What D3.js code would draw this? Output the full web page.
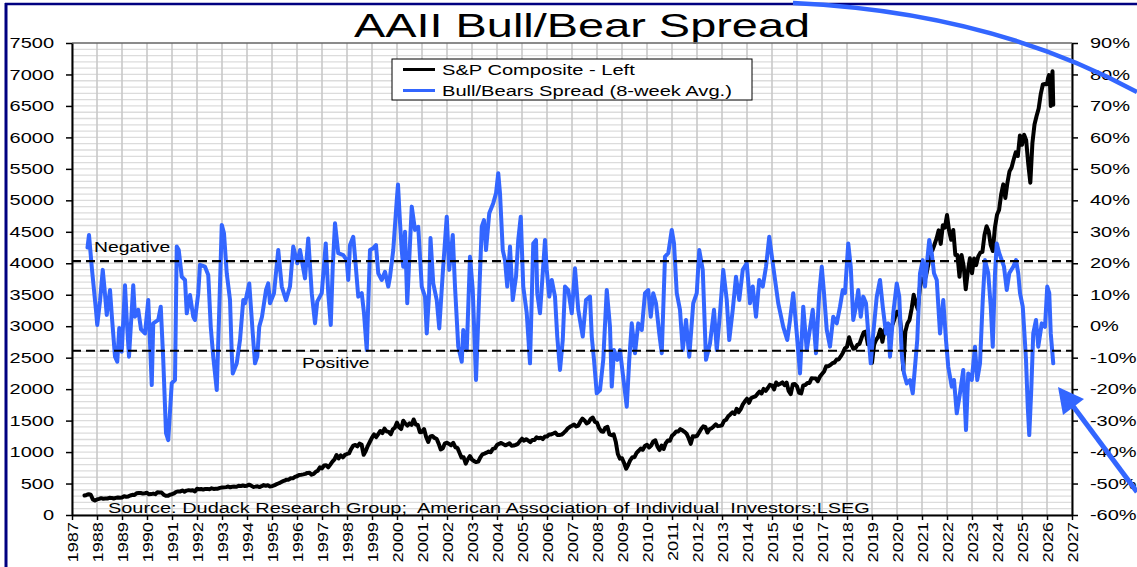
<!DOCTYPE html>
<html><head><meta charset="utf-8">
<script src="https://cdn.jsdelivr.net/npm/d3@7"></script>
<style>
body{margin:0;background:#fff;}
svg{display:block;font-family:Arial,"Liberation Sans",sans-serif;}
</style>
</head><body>
<svg id="c" width="1137" height="567"></svg>
<script>
// ---------------- DATA ----------------
const titleText = "AAII Bull/Bear Spread";
const legendLabels = ["S&P Composite - Left", "Bull/Bears Spread (8-week Avg.)"];
const sourceText = "Source: Dudack Research Group;\u00a0 American Association of Individual\u00a0 Investors;LSEG";
const yearTicks = [1987,1988,1989,1990,1991,1992,1993,1994,1995,1996,1997,1998,1999,2000,2001,2002,2003,2004,2005,2006,2007,2008,2009,2010,2011,2012,2013,2014,2015,2016,2017,2018,2019,2020,2021,2022,2023,2024,2025,2026,2027];
const leftTicks = [0,500,1000,1500,2000,2500,3000,3500,4000,4500,5000,5500,6000,6500,7000,7500];
const rightTicks = [-60,-50,-40,-30,-20,-10,0,10,20,30,40,50,60,70,80,90];
const negativeLevel = 20.7;   // "Negative" threshold (%)
const positiveLevel = -7.8;   // "Positive" threshold (%)

// S&P Composite, month-end values starting June 1987
const spxStartYear = 1987, spxStartMonth = 6;
const spxMonthly = [
 310,318,330,322,248,230,247,
 257,268,259,261,262,273,272,262,272,279,274,278,
 297,289,295,310,321,318,346,351,349,340,346,353,
 329,332,340,331,361,358,356,323,306,304,322,330,
 343,367,375,375,390,371,388,395,388,392,375,417,
 409,413,404,415,415,408,424,414,418,419,431,436,
 439,443,452,440,450,451,448,464,459,468,462,466,
 482,467,446,451,457,444,458,475,463,472,454,459,
 470,487,501,515,533,545,562,562,584,582,605,616,
 636,640,646,654,669,671,640,652,687,705,757,741,
 786,791,757,801,848,885,954,899,947,915,955,970,
 980,1049,1102,1112,1091,1134,1120,957,1017,1099,1164,1229,
 1280,1238,1286,1335,1302,1373,1329,1320,1283,1363,1389,1469,
 1394,1366,1499,1452,1421,1455,1431,1518,1437,1429,1315,1320,
 1366,1240,1160,1249,1256,1224,1211,1134,1041,1060,1139,1148,
 1130,1107,1147,1077,1067,990,912,916,815,886,936,880,
 856,841,848,917,964,975,990,1008,996,1051,1058,1112,
 1131,1145,1126,1107,1121,1141,1102,1104,1115,1130,1174,1212,
 1181,1204,1181,1157,1192,1191,1234,1220,1229,1207,1249,1248,
 1280,1281,1295,1311,1270,1270,1277,1304,1336,1378,1401,1418,
 1438,1407,1421,1482,1531,1503,1455,1474,1527,1549,1481,1468,
 1379,1331,1323,1386,1400,1280,1267,1283,1165,969,896,903,
 826,735,798,873,919,919,987,1021,1057,1036,1096,1115,
 1074,1104,1169,1187,1089,1031,1102,1049,1141,1183,1181,1258,
 1286,1327,1326,1364,1345,1321,1292,1219,1131,1253,1247,1258,
 1312,1366,1408,1398,1310,1362,1379,1407,1441,1412,1416,1426,
 1498,1515,1569,1598,1631,1606,1686,1633,1682,1757,1806,1848,
 1783,1859,1872,1884,1924,1960,1931,2003,1972,2018,2068,2059,
 1995,2105,2068,2086,2107,2063,2104,1972,1920,2079,2080,2044,
 1940,1932,2060,2065,2097,2099,2174,2171,2168,2126,2199,2239,
 2279,2364,2363,2384,2412,2423,2470,2472,2519,2575,2648,2674,
 2824,2714,2641,2648,2705,2718,2816,2902,2914,2712,2760,2420,
 2704,2784,2834,2946,2752,2942,2980,2926,2977,3038,3141,3231,
 3226,2954,2305,2912,3044,3100,3271,3500,3363,3270,3622,3756,
 3714,3811,3973,4181,4204,4298,4395,4523,4308,4605,4567,4766,
 4516,4374,4530,4132,4132,3785,4130,3955,3586,3872,4080,3840,
 4077,3970,4109,4169,4180,4450,4589,4508,4288,4194,4568,4770,
 4846,5096,5254,5036,5278,5460,5522,5648,5762,5705,6032,5882,
 6041,5955,5580,5280,5912,6205,6339,6460,6688,6840,6849,6845
];
// S&P Composite, recent weekly readings (2026)
const spxTailDates  = [2026.04, 2026.08, 2026.12, 2026.15, 2026.18, 2026.22, 2026.25];
const spxTailValues = [6940, 6990, 6850, 6500, 6820, 7050, 6520];

// AAII Bull-Bear spread, 8-week average (%)
const spreadDates = [
 1987.62,1987.68,1987.80,1987.96,1988.01,1988.12,1988.23,1988.30,1988.39,1988.52,1988.59,1988.72,1988.81,1988.89,1988.99,
 1989.12,1989.19,1989.28,1989.45,1989.52,1989.65,1989.76,1989.85,1989.92,
 1990.05,1990.19,1990.25,1990.45,1990.55,1990.65,1990.76,1990.85,1990.99,
 1991.12,1991.19,1991.27,1991.39,1991.52,1991.59,1991.72,1991.85,1991.92,
 1992.05,1992.12,1992.32,1992.45,1992.55,1992.65,1992.79,1992.89,1992.99,
 1993.08,1993.19,1993.32,1993.39,1993.43,1993.59,1993.72,1993.85,1993.92,
 1994.09,1994.23,1994.32,1994.41,1994.49,1994.60,1994.76,1994.85,1994.92,
 1995.08,1995.25,1995.39,1995.56,1995.72,1995.85,
 1996.01,1996.12,1996.32,1996.45,1996.59,1996.72,1996.81,1996.99,
 1997.15,1997.25,1997.35,1997.43,1997.52,1997.65,1997.85,1997.99,
 1998.05,1998.12,1998.25,1998.32,1998.45,1998.59,1998.68,1998.79,1998.92,
 1999.05,1999.16,1999.25,1999.39,1999.52,1999.65,1999.72,1999.85,1999.99,
 2000.04,2000.12,2000.19,2000.25,2000.32,2000.41,2000.52,2000.59,2000.72,2000.85,2000.99,
 2001.12,2001.19,2001.28,2001.34,2001.45,2001.59,2001.69,2001.83,2001.99,
 2002.09,2002.23,2002.32,2002.45,2002.59,2002.65,2002.79,2002.92,
 2003.03,2003.16,2003.29,2003.39,2003.48,2003.56,2003.69,2003.85,2003.96,
 2004.05,2004.12,2004.23,2004.32,2004.41,2004.52,2004.63,2004.76,2004.85,2004.95,
 2005.05,2005.19,2005.32,2005.45,2005.56,2005.61,2005.72,2005.92,2005.99,
 2006.09,2006.19,2006.32,2006.41,2006.52,2006.63,2006.72,2006.85,2006.99,
 2007.12,2007.25,2007.43,2007.56,2007.72,2007.79,2007.88,2007.99,
 2008.12,2008.25,2008.39,2008.52,2008.59,2008.68,2008.81,2008.92,
 2009.03,2009.19,2009.29,2009.39,2009.52,2009.65,2009.79,2009.92,
 2010.05,2010.15,2010.25,2010.36,2010.49,2010.59,2010.72,2010.85,2010.99,
 2011.08,2011.19,2011.32,2011.43,2011.56,2011.69,2011.85,2011.99,
 2012.09,2012.23,2012.36,2012.52,2012.68,2012.79,2012.92,
 2013.05,2013.19,2013.29,2013.43,2013.56,2013.69,2013.83,2013.99,
 2014.12,2014.23,2014.36,2014.49,2014.63,2014.76,2014.89,
 2015.05,2015.25,2015.45,2015.61,2015.72,2015.85,2015.99,
 2016.12,2016.25,2016.39,2016.49,2016.63,2016.76,2016.89,2016.99,
 2017.08,2017.19,2017.32,2017.45,2017.59,2017.72,2017.83,2017.92,
 2018.05,2018.15,2018.25,2018.36,2018.45,2018.55,2018.65,2018.76,2018.85,2018.95,
 2019.05,2019.19,2019.32,2019.43,2019.56,2019.65,2019.72,2019.85,2019.99,
 2020.09,2020.19,2020.28,2020.39,2020.52,2020.63,2020.72,2020.81,2020.92,
 2021.03,2021.12,2021.21,2021.29,2021.39,2021.48,2021.59,2021.72,2021.85,2021.96,
 2022.05,2022.19,2022.28,2022.39,2022.52,2022.65,2022.76,2022.85,2022.99,
 2023.12,2023.21,2023.32,2023.43,2023.52,2023.65,2023.75,2023.83,2023.92,2023.99,
 2024.09,2024.19,2024.28,2024.39,2024.49,2024.65,2024.76,2024.85,2024.92,
 2025.03,2025.08,2025.16,2025.23,2025.29,2025.37,2025.45,2025.56,2025.65,2025.79,2025.92,
 2026.01,2026.09,2026.15,2026.25
];
const spreadValues = [
 25,29,18,5,0.4,8,17.9,12,3.6,11.5,3.6,-9.7,-11.3,-0.6,-8.1,
 13,2,-9.7,13,3,5.2,-1,-1.7,-2.3,
 8.3,-18.7,0.9,2,6.2,-10.7,-34,-36.2,-18.1,
 -17.1,25.3,24.2,15.7,14.7,4.1,9.9,3,2,
 10.5,19.5,18.9,16.3,-0.2,-9.7,-20.3,5.2,32.2,
 29.5,16.8,8.3,-8.6,-15,-11.8,-4.4,8.3,7.3,
 13.6,-2.3,-11.8,-9.7,-0.2,3,11.5,13.6,7.3,
 10.5,24.2,12.6,8.3,12.6,25.3,
 20,24.2,15.2,27.9,10.5,0.9,7.8,10.5,
 26.3,10.5,0.4,18.9,32.7,23.2,22.6,21,
 14.7,25.8,28.4,22.1,9.4,10.5,4.1,-7.6,24.2,
 24.8,25.8,16.8,14.7,17.3,12.6,15.7,24.2,40,
 45,33,24,18.9,30,7.3,26.3,38,30.6,31.6,12.6,
 9.4,-2.3,10,28,13.6,8.3,-0.7,16.8,34.8,
 17.9,29,12.6,-6.5,-11.3,-1.2,-7.6,22.1,
 11.5,-17.1,10.5,31.6,33.7,24.2,35.9,39.1,42.2,
 48.6,42.2,24.2,21,12.6,25.3,8.3,15.7,27.4,34.8,
 12.6,4.1,-11.8,26.3,27.4,10.5,4.1,27.4,17.9,
 9.4,14.7,9.4,-3.3,-13.9,-4.4,12.6,11.5,4.1,
 18.4,5.2,-3.3,8.3,9.4,-3.3,-10.7,-21.3,
 -20.3,-10.7,11.5,-0.2,-19.2,-7.6,-10.7,-7.6,
 -15,-25.6,-10.7,0.9,-8.6,0.9,-1.2,10.5,
 11.5,3,10.5,7.3,-2.3,-8.6,22.1,23.2,30.6,
 26.3,10.5,5.2,-7.6,2,-9.7,7.3,10.5,
 24.2,17.9,-10.7,-5.5,5.2,-7.6,4.1,
 17.9,8.3,-4.4,5.2,15.7,8.3,17.9,20,
 7.3,12.6,3,14.7,12.6,18.9,28.4,
 18.9,7.3,-0.2,-4.4,2,10.5,-2.3,
 -15,6.2,-7.6,-2.3,5.2,-8.6,10.5,18.9,
 10.5,-1.2,-6.5,3,0.9,6.2,11.5,10.5,
 26.3,18.9,2,6.2,11.5,3,9.4,7.3,-2.3,-11.8,
 -2.3,9.4,14.7,6.2,-2.3,0.9,-9.7,4.1,13.6,
 9.4,-8.6,-15,-18.2,-17.1,-21.3,-12.9,-4.4,16.8,
 21,12.6,21,27.4,23.2,16.8,14.7,-2.3,8.3,-4.4,
 -12.9,-19.2,-17.1,-27.7,-21.3,-13.9,-33,-15,-17.1,
 -6.5,-17.1,-11.8,8.3,21,16.8,6.2,-6.5,16.8,26.3,
 23.2,21,18.9,11.5,16.8,18.9,21,16.8,10.5,
 6.2,-0.2,-10.7,-25.6,-34.6,-20.3,-2.3,2,-6.5,0.9,-0.2,
 12.6,10.5,-2.3,-11.8
];

// ---------------- CHART ----------------
const BLUE = "#3366ff", NAVY = "#000080";
const SX = 1.38; // horizontal stretch of the original lettering
const plot = {left:72, right:1072, top:43, bottom:515};
const svg = d3.select("#c");

const x  = d3.scaleLinear().domain([1987, 2027]).range([plot.left, plot.right]);
const yL = d3.scaleLinear().domain([0, 7500]).range([plot.bottom, plot.top]);
const yR = d3.scaleLinear().domain([-60, 90]).range([plot.bottom, plot.top]);

// outer frame
svg.append("line").attr("x1",5).attr("x2",1137).attr("y1",4).attr("y2",4).attr("stroke",NAVY).attr("stroke-width",2.5);
svg.append("line").attr("x1",6).attr("x2",6).attr("y1",3).attr("y2",567).attr("stroke",NAVY).attr("stroke-width",3);

// title
svg.append("text").attr("transform",`translate(582,37) scale(1.4,1)`).attr("text-anchor","middle")
  .attr("font-size",33.5).attr("fill","#000").text(titleText);

// gridlines
const minorGrid = d3.range(0, 7501, 100);
svg.append("g").selectAll("line").data(minorGrid).join("line")
  .attr("x1",plot.left).attr("x2",plot.right).attr("y1",d=>yL(d)).attr("y2",d=>yL(d))
  .attr("stroke","#dcdcdc").attr("stroke-width",1.3);
svg.append("g").selectAll("line").data(yearTicks).join("line")
  .attr("x1",d=>x(d)).attr("x2",d=>x(d)).attr("y1",plot.top).attr("y2",plot.bottom)
  .attr("stroke","#c8c8c8").attr("stroke-width",1.6);
svg.append("line").attr("x1",plot.left).attr("x2",plot.right).attr("y1",plot.top).attr("y2",plot.top)
  .attr("stroke","#333").attr("stroke-width",1.2);

// axes
function styleAxis(g){
  g.attr("font-family","Arial, 'Liberation Sans', sans-serif");
  g.select(".domain").attr("stroke","#000").attr("stroke-width",2);
  g.selectAll(".tick line").attr("stroke","#000").attr("stroke-width",1.5);
  g.selectAll("text").attr("fill","#000").attr("font-size",14.5);
}
const gL = svg.append("g").attr("transform",`translate(${plot.left},0)`)
  .call(d3.axisLeft(yL).tickValues(leftTicks).tickSize(6).tickSizeOuter(0).tickPadding(7).tickFormat(d=>String(d)));
styleAxis(gL);
gL.selectAll("text").attr("transform",`scale(${SX},1)`);

const gR = svg.append("g").attr("transform",`translate(${plot.right},0)`)
  .call(d3.axisRight(yR).tickValues(rightTicks).tickSize(6).tickSizeOuter(0).tickPadding(7).tickFormat(d=>d+"%"));
styleAxis(gR);
gR.selectAll("text").attr("transform",`scale(${SX},1)`);

const gB = svg.append("g").attr("transform",`translate(0,${plot.bottom})`)
  .call(d3.axisBottom(x).tickValues(yearTicks).tickSize(5).tickSizeOuter(0).tickFormat(d=>String(d)));
styleAxis(gB);
gB.selectAll("text").attr("x",0).attr("y",0).attr("dy",null)
  .attr("text-anchor","end").attr("dominant-baseline","central").attr("font-size",14)
  .attr("transform","translate(0,7) rotate(-90) scale(1.3,1)");

// series
const spxData = spxMonthly.map((v,i)=>({t: spxStartYear + (spxStartMonth + i)/12, v}))
  .concat(spxTailDates.map((t,i)=>({t, v: spxTailValues[i]})));
const spreadData = spreadDates.map((t,i)=>({t, v: spreadValues[i]}));

svg.append("path").datum(spxData)
  .attr("d", d3.line().x(d=>x(d.t)).y(d=>yL(d.v)))
  .attr("fill","none").attr("stroke","#000").attr("stroke-width",4)
  .attr("stroke-linejoin","round").attr("stroke-linecap","round");

svg.append("path").datum(spreadData)
  .attr("d", d3.line().x(d=>x(d.t)).y(d=>yR(d.v)))
  .attr("fill","none").attr("stroke",BLUE).attr("stroke-width",4)
  .attr("stroke-linejoin","round").attr("stroke-linecap","round");

// threshold lines
[negativeLevel, positiveLevel].forEach(v=>{
  svg.append("line").attr("x1",plot.left).attr("x2",plot.right).attr("y1",yR(v)).attr("y2",yR(v))
    .attr("stroke","#000").attr("stroke-width",2.2).attr("stroke-dasharray","9,5");
});
svg.append("text").attr("transform",`translate(94,${yR(negativeLevel)-9.5}) scale(${SX},1)`)
  .attr("font-size",14).text("Negative");
svg.append("text").attr("transform",`translate(302,${yR(positiveLevel)+17.5}) scale(${SX},1)`)
  .attr("font-size",14).text("Positive");

// source
svg.append("text").attr("transform",`translate(108,513) scale(1.33,1)`)
  .attr("font-size",15).attr("xml:space","preserve").text(sourceText);

// legend
const lg = svg.append("g");
lg.append("rect").attr("x",392).attr("y",59).attr("width",360).attr("height",41)
  .attr("fill","#fff").attr("stroke","#000").attr("stroke-width",1);
const legendColors = ["#000", BLUE];
legendLabels.forEach((lab,i)=>{
  const yy = 69.5 + i*21;
  lg.append("line").attr("x1",403).attr("x2",435).attr("y1",yy).attr("y2",yy)
    .attr("stroke",legendColors[i]).attr("stroke-width",3);
  lg.append("text").attr("transform",`translate(442,${yy+5.3}) scale(1.34,1)`)
    .attr("font-size",15).text(lab);
});

// annotation arrows
svg.append("path").attr("d","M793,3 Q990,12 1137,92")
  .attr("fill","none").attr("stroke",BLUE).attr("stroke-width",4.5);
svg.append("line").attr("x1",1137).attr("y1",492).attr("x2",1070).attr("y2",402)
  .attr("stroke",BLUE).attr("stroke-width",5);
svg.append("path").attr("d","M1058,387 L1084,399 L1063,415 Z").attr("fill",BLUE);
</script>
</body></html>
